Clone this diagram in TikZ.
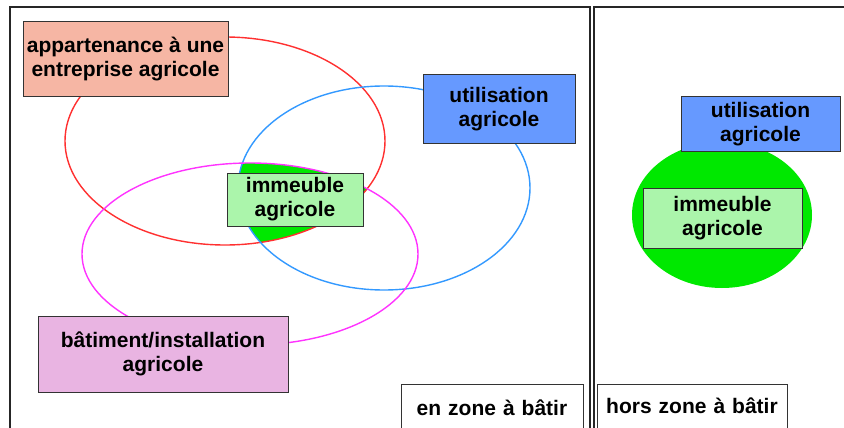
\documentclass[tikz,border=0pt]{standalone}
\usepackage{fontspec}
\setmainfont{Liberation Sans}
\definecolor{salmon}{HTML}{F6B6A4}
\definecolor{ublue}{HTML}{6699FF}
\definecolor{lgreen}{HTML}{ABF5AB}
\definecolor{pinkfill}{HTML}{E9B4E2}
\definecolor{vgreen}{HTML}{00E800}
\definecolor{redline}{HTML}{FF3030}
\definecolor{blueline}{HTML}{3399FF}
\definecolor{magline}{HTML}{FF33FF}
\tikzset{
  lbox/.style={draw=black!80, line width=1pt, align=center, inner sep=0pt,
    font=\fontsize{21}{24}\selectfont\bfseries},
  zonebox/.style={draw=black!80, line width=1pt, align=center, inner sep=0pt,
    anchor=north, font=\fontsize{21}{24}\selectfont\bfseries},
  frame/.style={draw=black!85, line width=2pt},
  ell/.style={line width=1.4pt}
}
\begin{document}
\begin{tikzpicture}[x=1pt,y=-1pt]
\clip (0,0) rectangle (844,428);
\fill[white] (0,0) rectangle (844,428);
% frames
\draw[frame] (10,460) -- (10,7.5) -- (589.5,7.5) -- (589.5,460);
\draw[frame] (593.5,460) -- (593.5,7.5) -- (870,7.5);
% intersection
\begin{scope}
  \clip (225,141) ellipse [x radius=160pt, y radius=104pt];
  \clip (384,188) ellipse [x radius=146pt, y radius=102pt];
  \fill[vgreen] (250,254) ellipse [x radius=168pt, y radius=91pt];
\end{scope}
% ellipses
\draw[ell, redline] (225,141) ellipse [x radius=160pt, y radius=104pt];
\draw[ell, blueline] (384,188) ellipse [x radius=146pt, y radius=102pt];
\draw[ell, magline] (250,254) ellipse [x radius=168pt, y radius=91pt];
% left boxes
\node[lbox, fill=salmon, minimum width=205pt, minimum height=75pt] (ent) at (125.5,59.5) {appartenance à une\\entreprise agricole};
\node[lbox, fill=ublue, minimum width=152pt, minimum height=68pt] (util) at (499,109) {utilisation\\agricole};
\node[lbox, fill=lgreen, minimum width=136pt, minimum height=53pt] (imm) at (295,199.5) {immeuble\\agricole};
\node[lbox, fill=pinkfill, minimum width=250pt, minimum height=76pt] (bat) at (163,354) {bâtiment/installation\\agricole};
\node[zonebox, fill=white, text width=182pt, text height=31pt, text depth=35pt] (enzone) at (492,384) {en zone à bâtir};
% right side
\fill[vgreen] (722,215) ellipse [x radius=90pt, y radius=73pt];
\node[lbox, fill=ublue, minimum width=159pt, minimum height=54pt] (util2) at (760.5,124) {utilisation\\agricole};
\node[lbox, fill=lgreen, minimum width=159pt, minimum height=60pt] (imm2) at (722.5,218) {immeuble\\agricole};
\node[zonebox, fill=white, text width=190pt, text height=29pt, text depth=37pt] (horszone) at (692,384) {hors zone à bâtir};
\end{tikzpicture}
\end{document}
